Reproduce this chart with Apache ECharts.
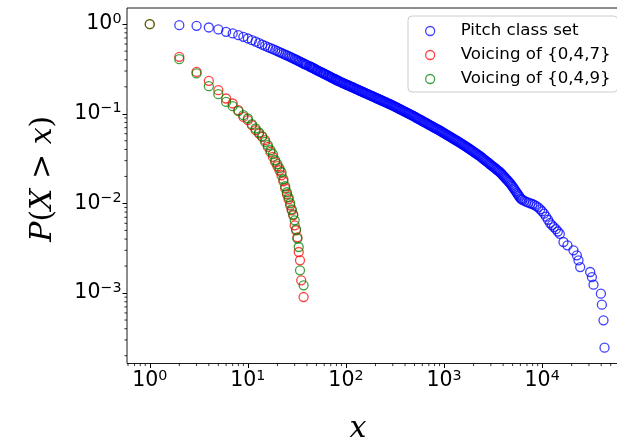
<!DOCTYPE html>
<html><head><meta charset="utf-8">
<script src="https://cdn.jsdelivr.net/npm/echarts@6/dist/echarts.min.js"></script>
<style>html,body{margin:0;padding:0;background:#fff}#c{width:617px;height:442px}</style>
</head><body><div id="c"></div>
<script>
const seriesNames = ['Pitch class set', 'Voicing of {0,4,7}', 'Voicing of {0,4,9}'];
const seriesColors = ['#0000ff', '#ff0000', '#008000'];

// Pitch class set: points
const pcsX = [2,3,4,5,6,7,8,9,10,11,12,13,14,15,16,17,18,19,20,21,22,23,24,25,26,27,28,29,30,31,32,33,34,35,36,37,38,39,40,
42,44,46,48,50,52,55,58,60,63,66,69,72,76,79,83,87,91,95,100,105,110,115,120,126,132,138,145,151,158,166,174,182,191,200,209,219,229,240,251,263,275,288,302,316,331,347,363,380,398,417,437,457,479,501,525,550,575,603,631,661,692,724,759,794,832,871,912,955,1000,
1047,1096,1148,1202,1259,1318,1380,1445,1514,1585,1660,1738,1820,1905,1995,2089,2188,2291,2399,2512,2630,2754,2884,3020,3162,3311,3467,3631,3802,3981,4169,4365,4571,4786,5012,5248,5495,5754,6026,6310,6607,6918,7244,7586,7943,8318,8710,9120,9550,10000,
10470,10960,11480,12020,12590,13180,13800,14450,15140,
16500,18110,20870,22590,23460,24420,30890,32150,33380,39720,40640,42220,43230];
const pcsY = [0.975,0.957,0.918,0.873,0.820,0.787,0.754,0.722,0.692,0.663,0.638,0.614,0.590,0.573,0.553,0.540,0.526,0.513,0.500,0.488,0.477,0.467,0.4575,0.4487,0.4403,0.4324,0.4238,0.4158,0.4082,0.4009,0.394,0.3875,0.3812,0.3752,0.3694,0.3639,0.3587,0.3536,0.3487,
0.341,0.3325,0.3243,0.3162,0.3084,0.3006,0.2932,0.2859,0.2788,0.2719,0.2651,0.2585,0.2520,0.2458,0.2397,0.2337,0.2279,0.2228,0.2178,0.2129,
0.2081,0.2035,0.1989,0.1945,0.1900,0.1858,0.1816,0.1776,0.1736,0.1697,0.1658,0.1622,0.1585,0.1550,0.1514,0.1481,0.1447,0.1415,0.1383,0.1352,
0.1321,0.1292,0.1262,0.1230,0.1200,0.1170,0.1141,0.1113,0.1085,0.1058,0.1032,0.1006,0.09798,0.09528,0.09271,0.09015,0.08769,0.08529,0.08295,0.08071,
0.07849,0.07634,0.07425,0.07222,0.07024,0.06833,0.06646,0.06466,0.06271,0.06085,
0.05904,0.05727,0.05558,0.05392,0.05230,0.05075,0.04924,0.04777,0.04626,0.04477,0.04332,0.04192,0.04058,0.03919,0.03783,0.03652,0.03526,0.03404,0.03276,0.03145,
0.03021,0.02902,0.02787,0.02677,0.02571,0.02470,0.02372,0.02278,0.02174,0.02057,0.01946,0.01841,0.01742,0.01641,0.01529,0.01425,0.01322,0.01226,0.01137,0.01093,
0.01065,0.01039,0.01018,0.01001,0.009852,0.009608,0.009324,0.009038,0.008594,0.008172,
0.007675,0.007117,0.006573,0.006044,0.005731,0.005451,0.005163,0.004861,0.004575,
0.003711,0.00341,0.002997,0.002636,0.002318,0.001951,0.001717,0.001509,0.001241,0.000985,0.000742,0.000496,0.0002457];

// Pitch class set: further points inside the dense, solid-looking band
const pcsBandX = [43,45,47,49,51,54,56,59,62,65,68,71,74,78,81,85,89,93,98,102,107,112,118,123,129,135,141,148,155,162,170,178,186,195,204,214,224,234,246,257,269,282,295,309,324,339,355,372,389,407,427,447,468,490,513,537,562,589,617,646,676,708,741,776,813,851,891,933,977,
1023,1072,1122,1175,1230,1288,1349,1413,1479,1549,1622,1698,1778,1862,1950,2042,2138,2239,2344,2455,2570,2692,2818,2951,3090,3236,3388,3548,3715,3890,
4074,4266,4467,4677,4898,5129,5370,5623,5888,6166];
const pcsBandY = [0.3368,0.3284,0.3203,0.3123,0.3045,0.2969,0.2896,0.2824,0.2754,0.2685,0.2618,0.2553,0.2489,0.2428,0.2367,0.2308,0.2254,0.2203,0.2154,
0.2105,0.2058,0.2012,0.1967,0.1923,0.1879,0.1837,0.1796,0.1756,0.1717,0.1678,0.1640,0.1604,0.1568,0.1532,0.1498,0.1464,0.1431,0.1399,0.1368,
0.1337,0.1307,0.1277,0.1246,0.1215,0.1185,0.1156,0.1127,0.1099,0.1072,0.1045,0.1019,0.09929,0.09663,0.09400,0.09143,0.08892,0.08649,0.08412,0.08183,
0.07960,0.07742,0.07530,0.07324,0.07123,0.06929,0.06740,0.06556,0.06369,0.06178,
0.05995,0.05816,0.05643,0.05475,0.05311,0.05153,0.05000,0.04851,0.04702,0.04552,0.04405,0.04262,0.04125,0.03989,0.03851,0.03718,0.03589,0.03465,0.03340,0.03211,
0.03083,0.02962,0.02845,0.02732,0.02624,0.02521,0.02421,0.02325,0.02226,0.02116,
0.02002,0.01894,0.01792,0.01692,0.01585,0.01477,0.01374,0.01274,0.01182,0.01115];

const v047X = [1,2,3,4,5,6,7,8,9,10,11,12,13,14,15,16,17,18,19,20,21,22,23,24,25,26,27,28,29,30,31,32,33,34,35,37];
const v047Y = [1.0,0.4315,0.2934,0.2329,0.1833,0.1481,0.1303,0.1096,0.0923,0.0848,0.0746,0.0656,0.0602,0.0552,0.0507,0.0427,0.0375,0.0330,0.0290,0.0260,0.02345,0.02062,0.01767,0.01476,0.01265,0.01113,0.009533,0.008384,0.007374,0.005701,0.005013,0.004188,0.00287,0.002318,0.001387,0.000903];

const v049X = [1,2,3,4,5,6,7,8,9,10,11,12,13,14,15,16,17,18,19,20,21,22,23,24,25,26,27,28,29,30,31,32,33,34,37];
const v049Y = [1.0,0.4067,0.2817,0.2032,0.1654,0.1357,0.1215,0.1069,0.0964,0.0886,0.0765,0.0685,0.0618,0.0562,0.0485,0.0446,0.0392,0.0354,0.0303,0.0274,0.0247,0.02227,0.0186,0.01554,0.01332,0.01171,0.01004,0.0086,0.007565,0.006485,0.005145,0.004051,0.003264,0.001793,0.00122];

const xTickExps = [0, 1, 2, 3, 4];
const yTickExps = [0, -1, -2, -3];
const X_MIN = 0.586, X_MAX = 73280;
const Y_MIN = 1.637e-4, Y_MAX = 1.514;

const zip = (xs, ys) => xs.map((x, i) => [x, ys[i]]);
const pcsData = zip(pcsX, pcsY).concat(zip(pcsBandX, pcsBandY)).sort((a, b) => a[0] - b[0]);
const allData = [pcsData, zip(v047X, v047Y), zip(v049X, v049Y)];

function powLabel(exps) {
  return function (v) {
    const lg = Math.log10(v);
    const e = Math.round(lg);
    if (Math.abs(lg - e) > 1e-6 || exps.indexOf(e) < 0) return '';
    return '{b|10}{s|' + (e < 0 ? '\u2212' : '') + Math.abs(e) + '}';
  };
}
const labelRich = {
  b: { fontFamily: 'DejaVu Sans', fontSize: 20.5, lineHeight: 24, color: '#000' },
  s: { fontFamily: 'DejaVu Sans', fontSize: 14.3, lineHeight: 12, verticalAlign: 'top', color: '#000' }
};

const chart = echarts.init(document.getElementById('c'), null, { renderer: 'canvas' });
const option = {
  animation: false,
  backgroundColor: '#ffffff',
  grid: { left: 127, top: 8, width: 500, height: 355.5, containLabel: false, outerBoundsMode: 'none',
          show: true, borderColor: '#1a1a1a', borderWidth: 1, backgroundColor: 'transparent' },
  xAxis: {
    type: 'log', logBase: 10, min: X_MIN, max: X_MAX,
    axisLine: { show: false },
    axisTick: { show: true, inside: false, length: 4.5, lineStyle: { color: '#000', width: 1 } },
    splitLine: { show: false },
    axisLabel: { formatter: powLabel(xTickExps), rich: labelRich, margin: 5.3, showMinLabel: false, showMaxLabel: false },
    name: 'x', nameLocation: 'middle', nameGap: 51,
    nameTextStyle: { fontFamily: 'DejaVu Serif', fontStyle: 'italic', fontSize: 30, lineHeight: 30, color: '#000', padding: [0, 38, 0, 0] }
  },
  yAxis: {
    type: 'log', logBase: 10, min: Y_MIN, max: Y_MAX,
    axisLine: { show: false },
    axisTick: { show: true, inside: false, length: 4.5, lineStyle: { color: '#000', width: 1 } },
    splitLine: { show: false },
    axisLabel: { formatter: powLabel(yTickExps), rich: labelRich, margin: 5.5, showMinLabel: false, showMaxLabel: false },
    name: 'P{n|(}X{n| > }x{n|)}', nameLocation: 'middle', nameGap: 69, nameRotate: 90,
    nameTextStyle: {
      fontFamily: 'DejaVu Serif', fontStyle: 'italic', fontSize: 30, lineHeight: 30, color: '#000', padding: [0, 0, 0, 14],
      rich: { n: { fontFamily: 'DejaVu Serif', fontStyle: 'normal', fontSize: 30, lineHeight: 30, color: '#000' } }
    }
  },
  legend: {
    orient: 'vertical', left: 408, top: 16,
    padding: [6, 7, 4, 17], itemGap: 6, itemWidth: 9, itemHeight: 9,
    backgroundColor: 'rgba(255,255,255,0.8)', borderColor: '#cccccc', borderWidth: 1, borderRadius: 4,
    textStyle: { fontFamily: 'DejaVu Sans', fontSize: 16.67, lineHeight: 18, color: '#000', padding: [0, 0, 0, 21] },
    data: seriesNames.map((n, i) => ({
      name: n, icon: 'circle',
      itemStyle: { color: 'rgba(0,0,0,0)', borderColor: seriesColors[i], borderWidth: 1.3, opacity: 0.75 }
    }))
  },
  series: seriesNames.map((n, i) => ({
    name: n, type: 'scatter', data: allData[i],
    symbol: 'circle', symbolSize: 9,
    itemStyle: { color: 'rgba(0,0,0,0)', borderColor: seriesColors[i], borderWidth: 1.3, opacity: 0.75 },
    emphasis: { disabled: true }
  }))
};
chart.setOption(option);

// minor ticks of the log axes (2..9 times each power of ten)
const g = [];
const yBottom = chart.convertToPixel({ gridIndex: 0 }, [1, Y_MIN])[1];
const xLeft = chart.convertToPixel({ gridIndex: 0 }, [X_MIN, 1])[0];
for (let k = -1; k <= 4; k++) {
  for (let m = 2; m <= 9; m++) {
    const v = m * Math.pow(10, k);
    if (v <= X_MIN || v >= X_MAX) continue;
    const px = chart.convertToPixel({ gridIndex: 0 }, [v, 1])[0];
    g.push({ type: 'line', silent: true, shape: { x1: px, y1: yBottom, x2: px, y2: yBottom + 2.6 }, style: { stroke: '#000', lineWidth: 0.8 } });
  }
}
for (let k = -4; k <= 0; k++) {
  for (let m = 2; m <= 9; m++) {
    const v = m * Math.pow(10, k);
    if (v <= Y_MIN || v >= Y_MAX) continue;
    const py = chart.convertToPixel({ gridIndex: 0 }, [1, v])[1];
    g.push({ type: 'line', silent: true, shape: { x1: xLeft, y1: py, x2: xLeft - 2.6, y2: py }, style: { stroke: '#000', lineWidth: 0.8 } });
  }
}
chart.setOption({ graphic: g });
</script>
</body></html>
